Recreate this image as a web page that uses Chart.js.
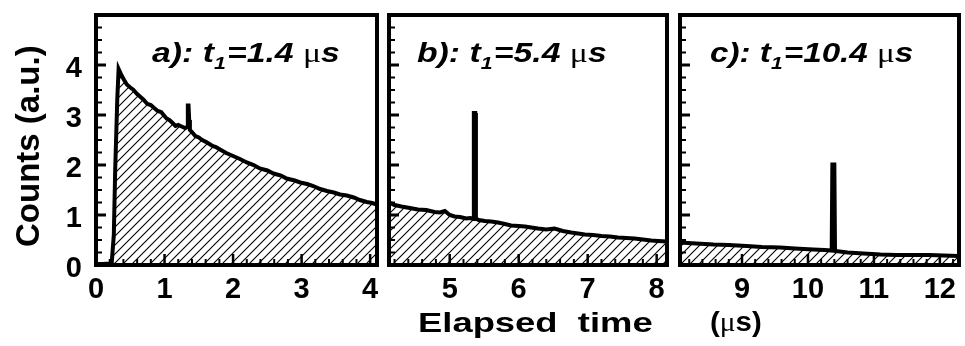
<!DOCTYPE html>
<html>
<head>
<meta charset="utf-8">
<script src="https://cdn.jsdelivr.net/npm/chart.js@4"></script>
<style>
  body { margin: 0; background: #fff; }
  #wrap { position: relative; width: 965px; height: 346px; overflow: hidden; }
  canvas { position: absolute; left: 0; top: 0; }
  .lbl { position: absolute; font-family: 'Liberation Sans', Arial, sans-serif; font-weight: bold;
         color: #000; white-space: pre; transform-origin: 0 0; }
  .it { font-style: italic; }
  .mu { font-family: 'Liberation Serif', serif; font-style: normal; font-weight: normal; }
  .sub { font-size: 17px; position: relative; top: 7px; padding-right: 1px; }
</style>
</head>
<body>
<div id="wrap">
  <canvas id="panelA" width="965" height="346"></canvas>
  <canvas id="panelB" width="965" height="346"></canvas>
  <canvas id="panelC" width="965" height="346"></canvas>

  <div class="lbl it" style="left:152px; top:40px; font-size:27px; line-height:27px; transform:scaleX(1.25)">a): t<span class="sub">1</span>=1.4 <span class="mu">μ</span>s</div>
  <div class="lbl it" style="left:417px; top:40px; font-size:27px; line-height:27px; transform:scaleX(1.25)">b): t<span class="sub">1</span>=5.4 <span class="mu">μ</span>s</div>
  <div class="lbl it" style="left:710px; top:40px; font-size:27px; line-height:27px; transform:scaleX(1.23)">c): t<span class="sub">1</span>=10.4 <span class="mu">μ</span>s</div>

  <div class="lbl" style="left:11px; top:247px; font-size:33px; line-height:33px; transform:rotate(-90deg)">Counts (a.u.)</div>
  <div class="lbl" style="left:418px; top:309px; font-size:28px; line-height:28px; transform:scaleX(1.3)">Elapsed  time</div>
  <div class="lbl" style="left:710px; top:308px; font-size:28px; line-height:28px; transform:scaleX(1.05)">(<span class="mu">μ</span>s)</div>
</div>
<script>
// Panel a: t1 = 1.4 us
const timeA = [0, 0.1, 0.2, 0.23, 0.26, 0.28, 0.31, 0.33, 0.37, 0.41, 0.45, 0.5, 0.54, 0.6, 0.65, 0.69,
  0.75, 0.8, 0.84, 0.9, 0.95, 0.98, 1.03, 1.07, 1.11, 1.16, 1.2, 1.25, 1.3, 1.33, 1.34, 1.35, 1.36,
  1.37, 1.4, 1.45, 1.5, 1.55, 1.62, 1.7, 1.75, 1.81, 1.9, 2.0, 2.1, 2.2, 2.3, 2.39, 2.5, 2.59, 2.7,
  2.78, 2.9, 2.98, 3.08, 3.17, 3.27, 3.37, 3.47, 3.56, 3.66, 3.76, 3.85, 3.95, 4.03, 4.1];
const countsA = [0.02, 0.02, 0.03, 0.05, 0.6, 1.9, 3.3, 3.92, 3.8, 3.7, 3.61, 3.55, 3.51, 3.42, 3.36, 3.31,
  3.22, 3.2, 3.15, 3.08, 3.06, 3.01, 2.93, 2.9, 2.85, 2.78, 2.8, 2.77, 2.74, 2.76, 3.19, 3.19, 2.9,
  2.7, 2.66, 2.58, 2.55, 2.5, 2.45, 2.38, 2.36, 2.31, 2.24, 2.18, 2.12, 2.05, 2.0, 1.93, 1.89, 1.83, 1.79,
  1.73, 1.69, 1.65, 1.62, 1.58, 1.52, 1.48, 1.45, 1.41, 1.39, 1.35, 1.3, 1.26, 1.24, 1.21];

// Panel b: t1 = 5.4 us
const timeB = [4.12, 4.2, 4.3, 4.42, 4.54, 4.66, 4.78, 4.86, 4.93, 5.0, 5.07, 5.15, 5.24, 5.3, 5.34, 5.35,
  5.37, 5.38, 5.42, 5.51, 5.6, 5.7, 5.8, 5.89, 6.0, 6.09, 6.18, 6.28, 6.4, 6.52, 6.64, 6.76, 6.86, 6.96,
  7.08, 7.2, 7.32, 7.44, 7.56, 7.68, 7.8, 7.92, 8.02, 8.15];
const countsB = [1.25, 1.2, 1.17, 1.14, 1.11, 1.1, 1.06, 1.05, 1.08, 1.0, 0.97, 0.96, 0.93, 0.94, 0.92, 3.04,
  3.04, 0.93, 0.9, 0.88, 0.87, 0.85, 0.82, 0.79, 0.78, 0.77, 0.75, 0.73, 0.71, 0.73, 0.68, 0.65, 0.63, 0.61,
  0.6, 0.58, 0.57, 0.55, 0.54, 0.53, 0.51, 0.49, 0.48, 0.47];

// Panel c: t1 = 10.4 us
const timeC = [8.06, 8.3, 8.57, 8.8, 9.07, 9.3, 9.58, 9.8, 10.08, 10.25, 10.36, 10.37, 10.4, 10.41, 10.48,
  10.6, 10.84, 11.1, 11.34, 11.6, 11.85, 12.05, 12.29];
const countsC = [0.45, 0.43, 0.41, 0.4, 0.38, 0.36, 0.35, 0.33, 0.31, 0.3, 0.29, 2.01, 2.01, 0.28, 0.27,
  0.25, 0.23, 0.21, 0.2, 0.2, 0.2, 0.19, 0.18];

const xTicksA = [0, 1, 2, 3, 4];
const xTicksB = [5, 6, 7, 8];
const xTicksC = [9, 10, 11, 12];
const yTicks = [0, 1, 2, 3, 4];

const FONT = "'Liberation Sans', Arial, sans-serif";

// diagonal hatching for the area under the curve
function makeHatch() {
    const c = document.createElement('canvas');
    c.width = 9;
    c.height = 9;
    const g = c.getContext('2d');
    g.strokeStyle = '#000';
    g.lineWidth = 1.1;
    g.beginPath();
    g.moveTo(0, 9); g.lineTo(9, 0);
    g.moveTo(-1, 1); g.lineTo(1, -1);
    g.moveTo(8, 10); g.lineTo(10, 8);
    g.stroke();
    return g.createPattern(c, 'repeat');
}

// thick frame + inward tick marks
const frameTicks = {
    id: 'frameTicks',
    afterDatasetsDraw(chart) {
        const { ctx, chartArea: a, scales: { x, y } } = chart;
        ctx.save();
        ctx.strokeStyle = '#000';
        for (let k = Math.ceil(x.min * 5 - 1e-6); k <= Math.floor(x.max * 5 + 1e-6); k++) {
            const major = k % 5 === 0;
            const px = x.getPixelForValue(k / 5);
            ctx.lineWidth = major ? 2.5 : 2;
            ctx.beginPath();
            ctx.moveTo(px, a.bottom);
            ctx.lineTo(px, a.bottom - (major ? 11 : 6));
            ctx.stroke();
        }
        for (let k = 0; k <= 20; k++) {
            const major = k % 4 === 0;
            const py = y.getPixelForValue(k / 4);
            ctx.lineWidth = major ? 3 : 2;
            ctx.beginPath();
            ctx.moveTo(a.left, py);
            ctx.lineTo(a.left + (major ? 10 : 6), py);
            ctx.stroke();
        }
        ctx.lineWidth = 4;
        ctx.strokeRect(a.left, a.top, a.right - a.left, a.bottom - a.top);
        ctx.restore();
    }
};

function makePanel(id, times, counts, xMin, xMax, xTicks, padLeft, padRight, showY) {
    const ctx = document.getElementById(id);
    return new Chart(ctx, {
        type: 'line',
        data: {
            datasets: [{
                data: times.map((t, i) => ({ x: t, y: counts[i] })),
                borderColor: '#000',
                borderWidth: 4,
                backgroundColor: makeHatch(),
                fill: 'origin',
                pointRadius: 0,
                tension: 0
            }]
        },
        options: {
            responsive: false,
            animation: false,
            events: [],
            layout: { padding: { left: padLeft, right: padRight, top: 15, bottom: 0 } },
            plugins: { legend: { display: false }, tooltip: { enabled: false } },
            scales: {
                x: {
                    type: 'linear',
                    min: xMin,
                    max: xMax,
                    afterBuildTicks: s => { s.ticks = xTicks.map(v => ({ value: v })); },
                    afterFit: s => { s.height = 81; s.paddingLeft = 0; s.paddingRight = 0; },
                    grid: { display: false, drawTicks: false },
                    border: { display: false },
                    ticks: {
                        color: '#000',
                        autoSkip: false,
                        maxRotation: 0,
                        padding: 8,
                        font: { family: FONT, size: 29, weight: 'bold' }
                    }
                },
                y: {
                    display: showY,
                    min: 0,
                    max: 5,
                    afterBuildTicks: s => { s.ticks = yTicks.map(v => ({ value: v })); },
                    afterFit: s => { s.width = showY ? 96 : 0; s.paddingTop = 0; s.paddingBottom = 0; },
                    grid: { display: false, drawTicks: false },
                    border: { display: false },
                    ticks: {
                        color: '#000',
                        padding: 14,
                        labelOffset: 4,
                        font: { family: FONT, size: 29, weight: 'bold' }
                    }
                }
            }
        },
        plugins: [frameTicks]
    });
}

makePanel('panelA', timeA, countsA, 0, 4.1, xTicksA, 0, 588, true);
makePanel('panelB', timeB, countsB, 4.12, 8.15, xTicksB, 389, 298, false);
makePanel('panelC', timeC, countsC, 8.06, 12.29, xTicksC, 680, 6, false);
</script>
</body>
</html>
